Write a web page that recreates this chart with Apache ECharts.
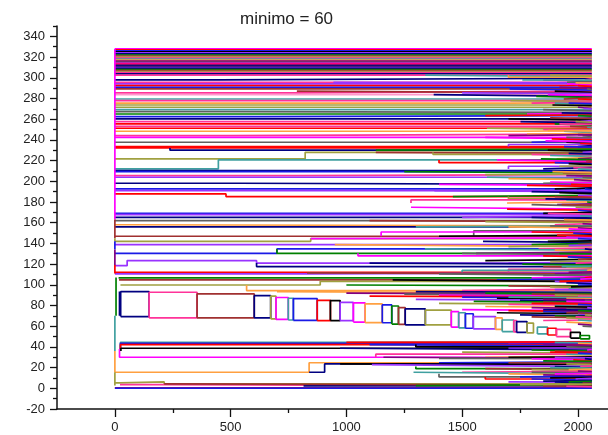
<!DOCTYPE html>
<html><head><meta charset="utf-8">
<script src="https://cdn.jsdelivr.net/npm/echarts@6/dist/echarts.min.js"></script>
<style>html,body{margin:0;padding:0;background:#fff}#c{width:608px;height:435px}</style>
</head><body><div id="c"></div>
<script>
const TITLE = 'minimo = 60';
const X_END = 2060;
const xMajorTicks = [0, 500, 1000, 1500, 2000];
const xMinorTicks = [250, 750, 1250, 1750];
const yMajorTicks = [-20,0,20,40,60,80,100,120,140,160,180,200,220,240,260,280,300,320,340];
const yMinorTicks = [-10,10,30,50,70,90,110,130,150,170,190,210,230,250,270,290,310,330,350];

// dense block of constant lines from x=0 to the end
const topBlock = [328,327,326,325,324,323,322,321,320,319,318,317,316,315,314,313,312,311,310,309,308,307,306,305];

// step paths: x0,y0, x1,y1, ... (value changes at x_i), running to X_END
const paths = [
  [0,303.7],[0,302.5],[0,298,447,299.5],[0,295.6],[0,294],[0,292.4],[0,290.8],[0,289.2],
  [0,285.3,786,287],[0,283.7],[0,279.5],[0,278],[0,275.4,1708,276],[0,273.7],[0,271.5],[0,269.2],
  [0,267.3,490,266.5],[0,265],[0,262.5,634,263.5],[0,260.2],[0,257.6],[0,255.4],[0,253.1],[0,251.2],
  [0,248.3,1752,249],[0,244.1,490,245.5],[0,242.5],[0,237.7],[0,233.5],[0,232.2],
  [0,221.6,822,228],[0,211.9,447,220.6],[0,210.3],[0,209.3],[0,205.5,786,206.5],[0,203.9],
  [0,198.1,533,197],[0,192.6],[0,191],[0,187.8,480,185.2],[0,169],[0,167.8],[0,165.2],[0,162],
  [0,158,40,157],[0,156],[0,146.9],[0,142,846,144.5],[0,138.8],[0,130.4,700,134.6],
  [0,118.5,53,123.4,612,121],[0,112],[0,110.5,830,111.5],[16,106.6],[18,104.7],[24,99.8,887,103.3],
  [0,15.5,839,24.7],[839,15.5,906,23.5],[0,5.2,22,6.2,213,4.2],[22,3.6,213,2.4],[0,0.5],[0,0.2]
];

// branches: [xStart, y, yParent] -> vertical from parent, then constant to X_END
const branches = [
  [238,230,232.2],[944,295,295.6],[786,285.3,287],[950,136.9,138.8],[700,130.4,134.6],[612,117.6,121],
  [569,94.4,99.8],[830,110.5,111.5],[846,145.3,144.5],[20,30,38],[24,44.4,38],[24,43.5,38],[24,42.2,38],
  [26,38.7,36],[815,2.6,2.4],[213,3,4.2],
  [1341,301,302.5],[1700,300.5,302.5],[1850,297,298],[1953,296.8,295.6],[1953,293,294],[2000,291.5,292.4],
  [1705,288,289.2],[1900,286,287],[1500,284.8,285.3],[1377,282,283.7],[1820,281,282],[1939,280.5,279.5],
  [1708,277,278],[1800,276.5,275.4],[1900,274.5,275.4],[1983,272.5,273.7],[2000,270.3,271.5],[1850,268,269.2],
  [1780,266,265],[1600,264,263.5],[1939,261.3,260.2],[1700,259,260.2],[2010,258.5,257.6],[1752,256.5,257.6],
  [1900,254.3,255.4],[1966,252.2,253.1],[1607,250,251.2],[1850,249.2,250],[1940,247,248.3],[1780,246,245.5],
  [1700,245,244.1],[2020,243.3,244.1],[1600,241,242.5],[1887,240,241],[1800,239,237.7],[1950,236.5,237.7],
  [1700,235.5,233.5],[2000,234.5,233.5],[1127,231,230],[1127,227,228],[1374,226,228],[1800,225,226],
  [1880,224,225],[1908,223,221.6],[2000,222.5,221.6],[1750,220,220.6],[1650,219,220.6],[1400,218,220.6],
  [1900,217,218],[1960,216,217],[1700,214.5,211.9],[1850,213.2,211.9],[1250,208,209.3],[1935,207.2,208],
  [1600,206.8,206.5],[1990,204.8,205.5],[1607,202.5,203.9],[1700,201.5,202.5],[1983,200.5,201.5],
  [1850,199.3,198.1],[1400,196,197],[1780,195,196],[1995,194,192.6],[1900,193.5,192.6],[1380,190,191],
  [1800,189,190],[1460,186.5,185.2],[1900,184,185.2],[1700,183,185.2],[1279,182,179],[1950,181,182],
  [1694,180,179],[1910,178.2,177.4],[1800,176,177.4],[1279,173,174.9],[1694,172,173],[2000,171,172],
  [1850,170,169],[1500,166.5,165.2],[1800,164,165.2],[2010,163,162],[1100,161,162],[1600,160,161],
  [1900,159,158],[1300,157,156],[1700,155,156],[2000,154,155],[1550,152,146.9],[1150,151,146.9],
  [1800,150,151],[1980,149,150],[1400,148,146.9],[1950,145.9,146.9],[1590,141,142],[1800,140,138.8],
  [2000,139.8,138.8],[1700,137.9,136.9],[1830,135.5,134.6],[1339,133.5,134.6],[1900,132.5,133.5],
  [1560,131.5,130.4],[1500,129,130.4],[1050,128,130.4],[1850,127,128],[1956,126,127],[1600,124.5,123.4],
  [1700,122,121],[1100,120,121],[1760,119,120],[1850,117,117.6],[1950,116,117],[1700,115,112],
  [1500,114,112],[2000,113,112],[1900,111,110.5],[1400,109,110.5],[1800,108,106.6],[2030,107.5,106.6],
  [1650,105.5,104.7],[1200,103,104.7],[1900,102,103.3],[1950,101,102],[1000,99,99.8],[1700,98,99],
  [1880,97,98],[1500,96,94.4],[1960,95.3,96],
  [700,92,93.4],[1000,91,92],[1250,90,91],[1400,89,90],[1100,88,89],[1500,87,88],[1650,86,87],
  [1300,85,86],[1750,84,85],[1550,83,84],[1850,82,83],[1400,81,82],[1700,80,81],[1900,79,80],
  [1600,78,79],[1800,77,78],[1950,76,77],[1500,75,76],[1700,74,75],[1850,73,74],[1650,72,73],
  [2000,71,72],[1750,70,71],[1900,69,70],[1800,68,69],[1950,67,68],[1850,66,65.5],[2000,65,66],
  [1950,63,64],[2000,61,62],[2020,59.5,60],
  [1700,45,44.4],[1000,44.8,44.4],[1100,41,42.2],[1300,40,42.2],[1700,39,38.7],[973,37,38.7],[1800,36,37],
  [1900,35,36],[1500,34,35],[1127,33,30],[1950,32,33],[1600,31,30],[1160,29,30],[1400,28.6,29],
  [1800,27.5,28.6],[1980,26.5,27.5],[1400,25.5,24.7],[973,22.8,23.5],[1110,21,22.8],[1900,20,21],
  [1300,19,21],[1600,18,19],[1800,17,18],[1500,16.5,15.5],[1290,14,15.5],[1700,13,14],[1850,12,13],
  [1400,11,14],[1950,10,11],[1600,9,11],[1800,8,9],[2000,7,8],[1700,6,6.2],[1900,5,6.2],
  [1300,3.5,2.6],[1850,2,2.4]
];

// late branches near the right end: [xStart, y, yParent]
const lateBranches = [
  [1880,301.8,302.5],[2030,299,298],[1760,297.8,298],[1990,294.8,295],[1920,290,290.8],[2040,288.6,289.2],
  [1870,283,283.7],[2000,279,279.5],[1960,275,275.4],[1890,273,273.7],[2025,269.8,270.3],[1930,265.5,266],
  [2000,262.8,263.5],[1880,260.8,261.3],[1990,257,257.6],[1920,255,255.4],[2040,251.7,252.2],[1870,248.6,249],
  [2000,244.6,245],[1950,242,242.5],[1860,238.3,239],[2010,236,236.5],[1940,233,233.5],[1870,229,230],
  [2020,228.5,228],[1960,226.5,227],[1840,221,221.6],[2035,219.5,220],[1920,215,214.5],[1980,212.5,213.2],
  [2000,211.2,211.9],[1890,208.6,209.3],[1950,205.2,205.5],[2020,203.2,203.9],[1880,198.6,199.3],
  [1970,196.5,197],[2030,191.8,192.6],[1920,188,189],[2000,186,186.5],[1860,182.5,183],[2040,179.5,180],
  [1930,177,177.4],[1990,174.5,174.9],[1870,168.4,169],[2010,166,166.5],[1940,162.5,163],[2020,158.5,159],
  [1880,156.5,157],[1960,153,154],[1910,147,148],[2000,144,144.5],[1870,142.5,142],[1960,138,137.9],
  [2030,134,134.6],[1920,130,130.4],[2000,125,124.5],[1880,123,122],[1990,121.5,121],[1930,118,117.6],
  [2040,114.5,114],[1960,112.5,112],[1850,110,109],[2010,106,105.5],[1920,104,103.3],[2000,100,99.8],
  [1970,98.5,98],[1900,94.9,95.3],
  [1300,92.6,93.4],[1600,91.5,92],[1800,90.5,91],[1900,89.5,90],[2000,88.5,89],[1700,87.5,88],[1950,86.5,87],
  [1850,85.5,86],[2030,84.5,85],[1950,83.5,84],[1800,81.5,82],[2000,80.5,81],[1900,78.5,79],[2040,77.5,78],
  [1850,75.5,76],[2000,74.5,75],[1950,72.5,73],[2030,70.5,71],[1990,68.5,69],
  [1900,44,44.4],[2000,43,43.5],[1850,41.5,42.2],[1950,39.5,40],[2040,37.5,37],[1880,34.5,35],[2000,33.5,34],
  [1700,30.5,30],[1900,29.5,30],[2030,28,28.6],[1850,26,26.5],[1700,24,24.7],[1950,23,23.5],[2010,21.5,21],
  [1880,19.5,20],[1960,18.5,18],[2000,16,16.5],[1800,15,15.5],[1900,14.5,14],[2030,12.5,12],[1750,11.5,11],
  [1880,10.5,10],[1990,9.5,9],[1850,7.5,7],[1960,6.6,6.2],[2020,4.5,5],[1750,4,3.5],[1950,1.5,2]
];

// funnel boxes: [x1, x2, yBottom, yTop]
const boxes = [
  [25,148,69.3,93.3],[148,355,68,92.8],[355,602,68,91.2],[602,673,68,89.5],[673,696,67,89],
  [696,749,66.5,87.7],[749,771,66,87],[771,874,65.7,86.6],[874,931,65.4,85],[931,973,65.4,84.7],
  [973,1030,65.4,83],[1030,1081,64,82.5],[1081,1155,63.5,81.5],[1155,1196,63.3,80.5],[1196,1225,62,79.5],
  [1225,1254,61.8,78],[1254,1341,61.2,76.7],[1341,1453,61.2,75.5],[1453,1485,59,74],[1485,1514,58.3,73],
  [1514,1548,58,72],[1548,1644,57.5,69.3],[1644,1673,57,68],[1673,1723,54.8,66],[1723,1735,54.5,65.5],
  [1735,1780,54,64.5],[1780,1808,53.5,63],[1825,1869,52.5,59],[1869,1907,51.5,58],[1907,1968,50,57],
  [1968,2010,48.5,54],[2010,2050,47.7,51]
];

// vertical segments on the left edge: [x, y0, y1]
const verticals = [
  [0,163,328],[0,145,163],[0,142,145],[0,134,142],[0,119,134],[0,111,119],[5,70,107],[20,70,93.5],[0,36,70],[0,15.5,36],[0,2.6,15.5]
];

// ---- styles (kept apart from the data) ----
const C = { red:'#FF0000', blue:'#1A1AE6', mag:'#FF00FF', blk:'#000000', grn:'#008000', olv:'#A0A040',
  nav:'#000080', pur:'#9933FF', win:'#A03030', teal:'#40A0A0', org:'#FFA040', pink:'#FF3399',
  vio:'#800080', gray:'#606060', wht:'#FF99CC' };
const palette = [C.mag, C.red, C.blue, C.blk, C.pur, C.nav, C.grn, C.win, C.olv, C.pink, C.teal, C.org, C.vio, C.gray];
const pathColors = [C.nav,C.pink,C.nav,C.pink,C.pur,C.red,C.blue,C.win,C.pink,C.wht,C.teal,C.pink,C.org,C.olv,C.olv,C.teal,
  C.gray,C.grn,C.blue,C.nav,C.pink,C.red,C.pink,C.red,C.org,C.pink,C.mag,C.gray,C.red,C.red,C.olv,C.teal,C.nav,C.blue,
  C.pink,C.pur,C.nav,C.blue,C.pur,C.red,C.blue,C.pur,C.nav,C.gray,C.org,C.nav,C.win,C.olv,C.pur,C.blue,C.pur,C.red,
  C.pur,C.grn,C.win,C.olv,C.org,C.nav,C.olv,C.pink,C.red,C.blue];
const branchHeadColors = [C.nav,C.pur,C.win,C.org,C.grn,C.nav,C.org,C.win,C.mag,C.mag,C.teal,C.blue,C.red,C.blk,C.nav,C.win];
const boxColors = [C.nav,C.pink,C.win,C.nav,C.olv,C.mag,C.teal,C.blue,C.red,C.blk,C.pur,C.mag,C.org,C.blue,C.grn,
  C.win,C.nav,C.olv,C.mag,C.teal,C.blue,C.pur,C.org,C.teal,C.pink,C.nav,C.olv,C.teal,C.red,C.pink,C.blk,C.grn];
const verticalColors = [C.mag,C.win,C.olv,C.blue,C.vio,C.red,C.grn,C.nav,C.teal,C.org,C.olv];
const LINE_W = 1.7;

const series = [];
let ci = 0;
function addLine(data, color) {
  series.push({
    type: 'line', data: data, showSymbol: false, symbol: 'none', silent: true,
    lineStyle: { width: LINE_W, color: color || palette[ci++ % palette.length] },
    animation: false
  });
}
topBlock.forEach(y => addLine([[0, y], [X_END, y]]));
paths.forEach((p, i) => {
  const pts = [[p[0], p[1]]];
  let prev = p[1];
  for (let k = 2; k < p.length; k += 2) {
    pts.push([p[k], prev]); pts.push([p[k], p[k + 1]]); prev = p[k + 1];
  }
  pts.push([X_END, prev]);
  addLine(pts, pathColors[i]);
});
boxes.forEach((b, i) => addLine([[b[0], b[2]], [b[0], b[3]], [b[1], b[3]], [b[1], b[2]], [b[0], b[2]]], boxColors[i]));
branches.forEach((b, i) => addLine([[b[0], b[2]], [b[0], b[1]], [X_END, b[1]]], branchHeadColors[i]));
lateBranches.forEach(b => addLine([[b[0], b[2]], [b[0], b[1]], [X_END, b[1]]]));
verticals.forEach((v, i) => addLine([[v[0], v[1]], [v[0], v[2]]], verticalColors[i]));

const axisCol = '#111';
const labelStyle = { fontSize: 13, color: '#222', fontFamily: 'Arial, "Liberation Sans", sans-serif' };
const plain = v => String(v);
const chart = echarts.init(document.getElementById('c'), null, { renderer: 'canvas' });
chart.setOption({
  backgroundColor: '#fff',
  animation: false,
  title: {
    text: TITLE, left: 235, top: 6,
    textStyle: { fontSize: 17, fontWeight: 'normal', color: '#222', fontFamily: 'Arial, "Liberation Sans", sans-serif' }
  },
  grid: { left: 57, right: 0, top: 26, bottom: 26, containLabel: false },
  xAxis: [
    { type: 'value', min: -250, max: 2130, position: 'bottom',
      axisLine: { show: true, onZero: false, lineStyle: { color: axisCol, width: 1.5 } },
      axisTick: { show: true, length: 8, customValues: xMajorTicks, lineStyle: { color: axisCol, width: 1.3 } },
      axisLabel: Object.assign({ customValues: xMajorTicks, margin: 12, formatter: plain }, labelStyle),
      splitLine: { show: false } },
    { type: 'value', min: -250, max: 2130, position: 'bottom',
      axisLine: { show: false, onZero: false },
      axisTick: { show: true, length: 4, customValues: xMinorTicks, lineStyle: { color: axisCol, width: 1.3 } },
      axisLabel: { show: false, customValues: xMinorTicks },
      splitLine: { show: false } }
  ],
  yAxis: [
    { type: 'value', min: -20, max: 350, position: 'left',
      axisLine: { show: true, onZero: false, lineStyle: { color: axisCol, width: 1.5 } },
      axisTick: { show: true, length: 7, customValues: yMajorTicks, lineStyle: { color: axisCol, width: 1.3 } },
      axisLabel: Object.assign({ customValues: yMajorTicks, margin: 12, formatter: plain }, labelStyle),
      splitLine: { show: false } },
    { type: 'value', min: -20, max: 350, position: 'left',
      axisLine: { show: false, onZero: false },
      axisTick: { show: true, length: 4, customValues: yMinorTicks, lineStyle: { color: axisCol, width: 1.3 } },
      axisLabel: { show: false, customValues: yMinorTicks },
      splitLine: { show: false } }
  ],
  series: series
});
</script>
</body></html>
